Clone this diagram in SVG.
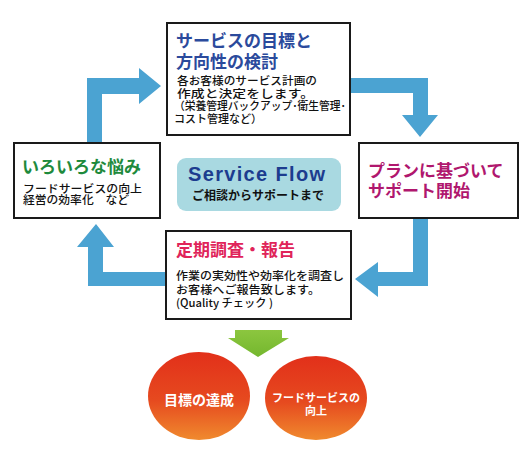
<svg xmlns="http://www.w3.org/2000/svg" width="532" height="453" viewBox="0 0 532 453">
<defs>
<linearGradient id="og" x1="0" y1="0" x2="0" y2="1">
<stop offset="0" stop-color="#e2301a"/>
<stop offset="0.55" stop-color="#e64a1f"/>
<stop offset="1" stop-color="#f08a2e"/>
</linearGradient>
<linearGradient id="gg" x1="0" y1="0" x2="0" y2="1">
<stop offset="0" stop-color="#8cc63f"/>
<stop offset="1" stop-color="#74b72e"/>
</linearGradient>
</defs>
<style>
.box{fill:#fff;stroke:#1a1a1a;stroke-width:2}
.arr{fill:#4ba3d2}
.t{font-family:"Noto Sans CJK JP","Noto Sans",sans-serif;font-weight:700;font-size:17px}
.b{font-family:"Noto Sans CJK JP","Noto Sans",sans-serif;font-weight:500;font-size:11px;fill:#111}
.w{font-family:"Noto Sans CJK JP","Noto Sans",sans-serif;font-weight:700;fill:#fff;text-anchor:middle}
</style>
<rect width="532" height="453" fill="#fff"/>
<g id="connectors">
<path class="arr" d="M87,142 L87,78 L139,78 L139,68 L161,86 L139,104 L139,94 L102,94 L102,142 Z"/>
<path class="arr" d="M351,78 L428,78 L428,115 L438,115 L420,137 L402,115 L413,115 L413,93 L351,93 Z"/>
<path class="arr" d="M413,219 L428,219 L428,286 L378,286 L378,297 L355,279 L378,262 L378,272 L413,272 Z"/>
<path class="arr" d="M88,286 L88,247 L77,247 L96,224 L114,247 L103,247 L103,272 L165,272 L165,286 Z"/>
<path fill="url(#gg)" d="M235,330 L282,330 L282,338 L289,338 L258,357 L228,338 L235,338 Z"/>
</g>
<g id="node-top">
<rect class="box" x="167" y="23" width="183" height="112"/>
<text class="t" fill="#2b4a9c" x="176" y="47">サービスの目標と</text>
<text class="t" fill="#2b4a9c" x="176" y="68">方向性の検討</text>
<text class="b" x="177" y="85" textLength="140" lengthAdjust="spacingAndGlyphs">各お客様のサービス計画の</text>
<text class="b" x="177" y="98" textLength="137" lengthAdjust="spacingAndGlyphs">作成と決定をします。</text>
<text class="b" x="174" y="110" font-size="10.5" textLength="172" lengthAdjust="spacingAndGlyphs">（栄養管理バックアップ･衛生管理･</text>
<text class="b" x="174" y="123" font-size="10.5" textLength="88" lengthAdjust="spacingAndGlyphs">コスト管理など）</text>
</g>
<g id="node-left">
<rect class="box" x="14" y="143" width="146" height="75"/>
<text class="t" fill="#1e8a3c" x="22" y="173">いろいろな悩み</text>
<text class="b" x="23" y="193" textLength="119" lengthAdjust="spacingAndGlyphs">フードサービスの向上</text>
<text class="b" x="23" y="204" textLength="106" lengthAdjust="spacingAndGlyphs">経営の効率化　など</text>
</g>
<g id="node-center">
<rect x="177" y="158" width="164" height="53" rx="9" fill="#a9d9e1"/>
<text x="188" y="181" font-family="Liberation Sans,Arial,sans-serif" font-size="20" font-weight="700" fill="#1c3c8f" textLength="137" lengthAdjust="spacing">Service Flow</text>
<text x="258" y="200" font-family="Noto Sans CJK JP,sans-serif" font-size="12" font-weight="700" fill="#111" text-anchor="middle">ご相談からサポートまで</text>
</g>
<g id="node-right">
<rect class="box" x="359" y="143" width="159" height="75"/>
<text class="t" fill="#b0176e" x="368" y="177">プランに基づいて</text>
<text class="t" fill="#b0176e" x="368" y="197">サポート開始</text>
</g>
<g id="node-bottom">
<rect class="box" x="166" y="231" width="185" height="88"/>
<text class="t" fill="#e0245a" x="176" y="256">定期調査・報告</text>
<text class="b" x="176" y="280" textLength="168" lengthAdjust="spacingAndGlyphs">作業の実効性や効率化を調査し</text>
<text class="b" x="176" y="294" textLength="144" lengthAdjust="spacingAndGlyphs">お客様へご報告致します。</text>
<text class="b" x="176" y="307" textLength="97" lengthAdjust="spacingAndGlyphs">(Quality チェック )</text>
</g>
<g id="node-goal1">
<ellipse cx="199" cy="396" rx="51" ry="44" fill="url(#og)"/>
<text class="w" x="199" y="405" font-size="14">目標の達成</text>
</g>
<g id="node-goal2">
<ellipse cx="316" cy="398" rx="51" ry="42" fill="url(#og)"/>
<text class="w" x="316" y="402" font-size="11">フードサービスの</text>
<text class="w" x="316" y="415" font-size="11">向上</text>
</g>
</svg>
